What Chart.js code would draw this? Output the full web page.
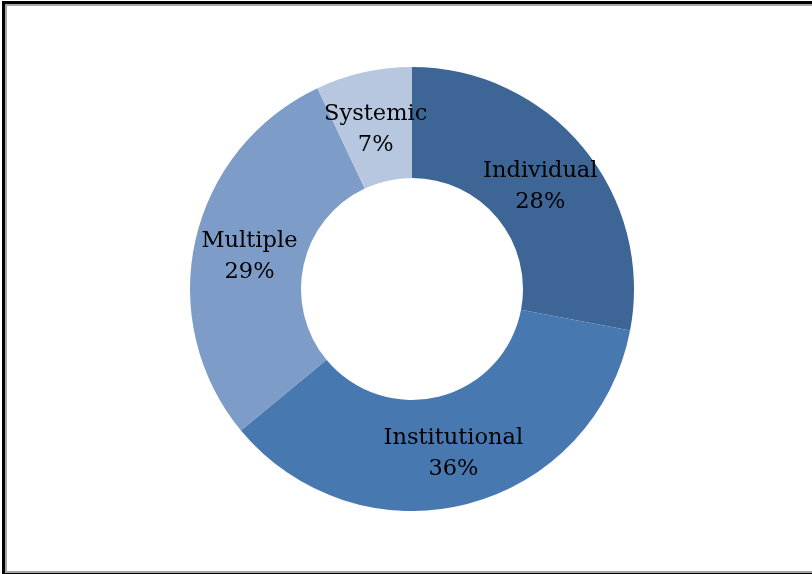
<!DOCTYPE html>
<html>
<head>
<meta charset="utf-8">
<script src="https://cdn.jsdelivr.net/npm/chart.js@4.4.0/dist/chart.umd.min.js"></script>
<style>
  body { margin: 0; background: #fff; width: 812px; height: 574px; overflow: hidden; position: relative; }
  .ln { position: absolute; }
  #wrap { position: absolute; left: 190px; top: 67px; width: 444px; height: 444px; }
</style>
</head>
<body>
<!-- frame -->
<div class="ln" style="left:2px;top:1px;width:810px;height:3px;background:#000"></div>
<div class="ln" style="left:2px;top:1px;width:3px;height:573px;background:#000"></div>
<div class="ln" style="left:5px;top:4px;width:807px;height:2px;background:#a6a6a6"></div>
<div class="ln" style="left:5px;top:4px;width:2px;height:569px;background:#a6a6a6"></div>
<div class="ln" style="left:5px;top:571px;width:807px;height:2px;background:#a6a6a6"></div>
<div class="ln" style="left:2px;top:573px;width:810px;height:1px;background:#000"></div>

<div id="wrap"><canvas id="donut" width="444" height="444"></canvas></div>

<script>
var categories = ['Individual', 'Institutional', 'Multiple', 'Systemic'];
var shares = [28, 36, 29, 7];
var sliceColors = ['#3d6595', '#4778b0', '#7e9cc8', '#b8c7e0'];

// draws "name" and "nn%" inside each slice
var sliceLabels = {
    id: 'sliceLabels',
    afterDatasetsDraw: function (chart) {
        var ctx = chart.ctx;
        var meta = chart.getDatasetMeta(0);
        ctx.save();
        ctx.font = '22.5px "DejaVu Serif"';
        ctx.fillStyle = '#000';
        ctx.textAlign = 'center';
        ctx.textBaseline = 'middle';
        meta.data.forEach(function (arc, i) {
            var p = arc.tooltipPosition();
            ctx.fillText(categories[i], p.x, p.y - 12);
            ctx.fillText(shares[i] + '%', p.x, p.y + 19);
        });
        ctx.restore();
    }
};

var ctx = document.getElementById('donut').getContext('2d');

var myDonut = new Chart(ctx, {
    type: 'doughnut',
    data: {
        labels: categories,
        datasets: [{
            data: shares,
            backgroundColor: sliceColors,
            borderWidth: 0
        }]
    },
    options: {
        responsive: false,
        animation: false,
        cutout: '50%',
        plugins: {
            legend: { display: false },
            tooltip: { enabled: false }
        }
    },
    plugins: [sliceLabels]
});
</script>
</body>
</html>
